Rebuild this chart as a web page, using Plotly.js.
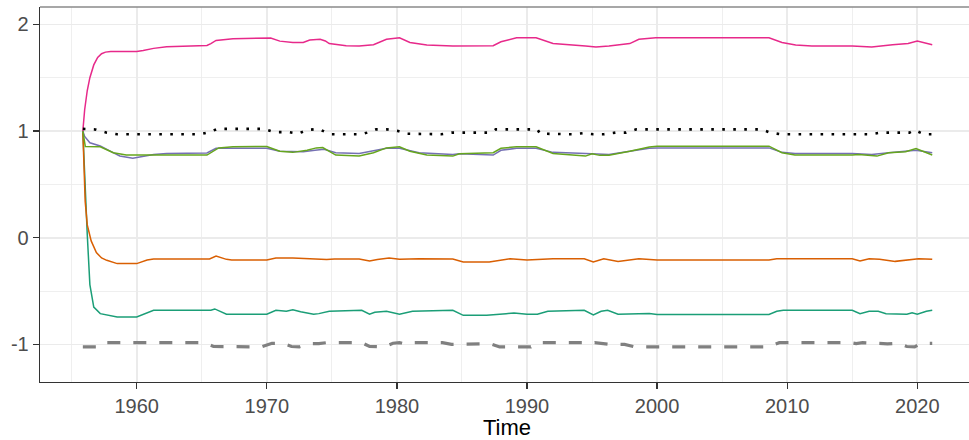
<!DOCTYPE html>
<html>
<head>
<meta charset="utf-8">
<script src="https://cdn.plot.ly/plotly-3.0.1.min.js"></script>
<style>
  html, body { margin: 0; padding: 0; overflow: hidden; background: #ffffff; }
  #chart { width: 980px; height: 440px; }
</style>
</head>
<body>
<div id="chart"></div>
<script>
// Seven smoothed paths over time; each series has its own sample times.
const pinkT = [1955.86,1956.0,1956.2,1956.4,1956.7,1957.0,1957.3,1957.6,1958.0,1960.0,1960.5,1961.3,1962.3,1965.4,1965.7,1966.1,1967.4,1969.5,1970.3,1971.0,1972.0,1972.8,1973.3,1974.1,1974.5,1974.8,1976.1,1977.1,1978.2,1979.2,1980.2,1981.0,1982.3,1984.3,1987.4,1988.0,1989.2,1990.7,1992.0,1994.5,1995.3,1996.3,1997.9,1998.6,1999.9,2008.6,2009.6,2010.65,2011.9,2015.0,2016.5,2018.1,2019.3,2020.0,2020.4,2021.15];
const pinkY = [1.0,1.2,1.38,1.5,1.62,1.69,1.725,1.74,1.745,1.745,1.755,1.775,1.79,1.803,1.82,1.85,1.865,1.875,1.873,1.843,1.83,1.83,1.853,1.86,1.845,1.82,1.80,1.797,1.81,1.86,1.875,1.83,1.806,1.797,1.80,1.837,1.875,1.875,1.82,1.797,1.787,1.797,1.82,1.86,1.875,1.875,1.83,1.806,1.797,1.797,1.787,1.81,1.82,1.843,1.83,1.81];

const dotT = [1955.86,1956.8,1957.7,1958.5,1964.9,1965.6,1966.2,1969.8,1970.6,1971.7,1972.4,1973.1,1974.0,1974.5,1975.0,1977.3,1977.7,1978.4,1979.2,1980.1,1980.8,1983.4,1984.2,1987.2,1987.6,1990.8,1991.0,1993.5,1994.3,1995.1,1995.9,1996.8,1997.6,1998.4,2008.0,2008.7,2009.5,2016.4,2017.2,2019.4,2019.8,2020.5,2021.15];
const dotY = [1.02,1.015,0.985,0.97,0.97,0.99,1.02,1.02,0.99,0.99,0.975,1.01,1.02,0.99,0.97,0.97,0.985,1.016,1.016,1.0,0.975,0.97,0.985,0.985,1.016,1.016,0.975,0.97,0.98,0.97,0.97,0.985,0.985,1.016,1.016,0.985,0.97,0.97,0.985,0.985,1.01,0.97,0.97];

const dashT = [1955.86,1957.3,1957.7,1965.2,1965.9,1969.6,1970.4,1971.2,1971.9,1972.5,1973.3,1974.0,1974.6,1977.3,1977.9,1979.0,1979.7,1980.2,1980.7,1981.3,1983.5,1984.2,1987.2,1987.9,1990.3,1990.8,1994.4,1994.8,1995.2,1995.8,1996.3,1997.5,1998.3,2008.5,2009.4,2014.8,2015.3,2015.8,2016.8,2017.7,2018.5,2019.2,2019.8,2020.3,2021.15];
const dashY = [-1.024,-1.024,-0.984,-0.984,-1.02,-1.024,-0.99,-0.99,-1.02,-1.024,-0.993,-0.993,-0.984,-0.984,-1.02,-1.024,-0.99,-0.984,-1.0,-0.984,-0.984,-1.0,-0.995,-1.024,-1.024,-0.984,-0.984,-0.993,-0.984,-0.99,-1.0,-1.0,-1.024,-1.024,-0.984,-0.984,-0.993,-0.984,-0.99,-0.995,-0.99,-1.02,-1.024,-0.99,-0.99];

const orangeT = [1955.86,1956.04,1956.2,1956.5,1956.9,1957.3,1957.7,1958.5,1960.0,1960.8,1961.3,1965.6,1966.1,1966.9,1967.3,1970.0,1970.7,1972.0,1974.6,1975.2,1977.1,1977.9,1978.5,1979.4,1980.2,1981.7,1984.3,1985.1,1987.1,1988.7,1990.0,1992.0,1994.4,1995.1,1995.9,1997.0,1998.6,2000.0,2008.6,2009.2,2015.0,2015.6,2016.3,2017.1,2018.3,2019.2,2020.1,2021.15];
const orangeY = [1.0,0.34,0.12,-0.03,-0.14,-0.19,-0.212,-0.243,-0.243,-0.21,-0.20,-0.20,-0.172,-0.203,-0.21,-0.21,-0.19,-0.19,-0.205,-0.2,-0.2,-0.218,-0.205,-0.19,-0.203,-0.197,-0.20,-0.228,-0.228,-0.197,-0.21,-0.197,-0.197,-0.228,-0.197,-0.222,-0.197,-0.21,-0.21,-0.197,-0.197,-0.218,-0.197,-0.203,-0.222,-0.21,-0.197,-0.203];

const tealT = [1955.86,1956.0,1956.2,1956.4,1956.7,1957.2,1958.5,1960.0,1960.8,1961.3,1965.7,1966.0,1966.9,1970.0,1970.7,1971.5,1972.0,1972.6,1973.6,1974.0,1974.8,1977.3,1977.9,1978.3,1979.2,1980.2,1981.2,1984.3,1985.1,1986.9,1988.4,1989.0,1990.0,1990.8,1991.6,1994.4,1995.1,1995.7,1996.2,1997.0,1999.4,2000.0,2008.6,2009.2,2009.7,2015.0,2015.6,2016.3,2017.0,2017.6,2019.2,2019.6,2020.0,2020.7,2021.15];
const tealY = [1.0,0.55,0.03,-0.44,-0.65,-0.712,-0.743,-0.743,-0.70,-0.68,-0.68,-0.668,-0.718,-0.718,-0.68,-0.69,-0.675,-0.695,-0.718,-0.712,-0.69,-0.68,-0.718,-0.70,-0.69,-0.718,-0.69,-0.68,-0.728,-0.728,-0.712,-0.705,-0.718,-0.718,-0.69,-0.68,-0.725,-0.69,-0.68,-0.718,-0.71,-0.72,-0.72,-0.69,-0.68,-0.68,-0.712,-0.69,-0.69,-0.712,-0.718,-0.703,-0.718,-0.69,-0.68];

const purpleT = [1955.86,1956.0,1956.4,1957.2,1958.0,1958.7,1959.7,1960.5,1961.3,1962.3,1965.4,1966.1,1970.0,1971.0,1972.8,1973.7,1974.4,1975.3,1977.1,1979.2,1980.2,1981.7,1984.3,1984.8,1987.4,1988.0,1989.2,1990.7,1992.0,1994.5,1996.3,1997.9,1999.4,2000.0,2008.6,2009.6,2010.6,2015.0,2016.5,2017.8,2019.9,2021.15];
const purpleY = [1.0,0.95,0.89,0.86,0.81,0.766,0.744,0.763,0.78,0.79,0.795,0.838,0.838,0.81,0.805,0.82,0.83,0.797,0.79,0.838,0.838,0.797,0.78,0.787,0.775,0.82,0.838,0.838,0.80,0.79,0.78,0.81,0.838,0.842,0.842,0.80,0.79,0.79,0.78,0.797,0.82,0.797];

const greenT = [1955.86,1956.05,1957.2,1958.2,1959.2,1965.4,1966.3,1967.4,1970.0,1971.0,1972.0,1973.1,1973.8,1974.3,1975.3,1977.1,1978.2,1979.2,1980.2,1981.0,1982.3,1984.3,1984.8,1987.4,1988.0,1989.2,1990.7,1992.0,1994.5,1995.0,1995.6,1996.3,1997.9,1999.4,2000.0,2008.6,2009.6,2010.6,2015.0,2015.5,2016.9,2017.8,2019.1,2019.9,2021.15];
const greenY = [1.0,0.855,0.853,0.797,0.775,0.775,0.842,0.853,0.855,0.81,0.80,0.82,0.842,0.845,0.775,0.765,0.797,0.842,0.853,0.81,0.775,0.765,0.787,0.797,0.838,0.853,0.853,0.79,0.765,0.787,0.772,0.772,0.81,0.85,0.858,0.858,0.797,0.775,0.775,0.78,0.765,0.797,0.805,0.835,0.775];

const xTicks = [1960, 1970, 1980, 1990, 2000, 2010, 2020];
const yTicks = [-1, 0, 1, 2];

function path(x, y, color, width, dash) {
  return {
    x: x, y: y, type: 'scatter', mode: 'lines', hoverinfo: 'skip',
    line: { color: color, width: width, dash: dash || 'solid' }
  };
}

const traces = [
  path(tealT, tealY, '#1B9E77', 1.5),
  path(orangeT, orangeY, '#D95F02', 1.5),
  path(purpleT, purpleY, '#7570B3', 1.5),
  path(pinkT, pinkY, '#E7298A', 1.5),
  path(greenT, greenY, '#66A61E', 1.5),
  path(dotT, dotY, '#000000', 2.6, '2.6px,8.4px'),
  path(dashT, dashY, '#808080', 3.2, '13px,13px')
];

const layout = {
  width: 980, height: 440,
  margin: { l: 40, r: 6, t: 7, b: 58 },
  paper_bgcolor: '#ffffff', plot_bgcolor: '#ffffff',
  showlegend: false,
  font: { family: '"Liberation Sans", Arial, sans-serif', color: '#4d4d4d' },
  xaxis: {
    range: [1952.567, 2024.36],
    tickmode: 'array', tickvals: xTicks, ticktext: xTicks.map(String),
    ticks: 'outside', ticklen: 6, tickwidth: 1.3, tickcolor: '#333333',
    tickfont: { size: 20, color: '#4d4d4d' },
    showgrid: true, gridcolor: '#ebebeb', gridwidth: 1.6,
    minor: { dtick: 5, tick0: 1955, showgrid: true, gridcolor: '#ebebeb', gridwidth: 0.8, ticks: '' },
    showline: true, linecolor: '#333333', linewidth: 1.3,
    zeroline: false,
    title: { text: 'Time', font: { size: 22, color: '#000000' }, standoff: 4 }
  },
  yaxis: {
    range: [-1.353, 2.163],
    tickmode: 'array', tickvals: yTicks, ticktext: yTicks.map(String),
    ticks: 'outside', ticklen: 6, tickwidth: 1.3, tickcolor: '#333333',
    tickfont: { size: 20, color: '#4d4d4d' },
    showgrid: true, gridcolor: '#ebebeb', gridwidth: 1.6,
    minor: { dtick: 0.5, tick0: -1.5, showgrid: true, gridcolor: '#ebebeb', gridwidth: 0.8, ticks: '' },
    showline: true, linecolor: '#333333', linewidth: 1.3,
    zeroline: false
  },
  shapes: [
    { type: 'line', xref: 'paper', yref: 'paper', x0: 0, x1: 1, y0: 1, y1: 1,
      line: { color: '#8a8a8a', width: 1.3 } }
  ]
};

Plotly.newPlot('chart', traces, layout, { displayModeBar: false, staticPlot: true });
</script>
</body>
</html>
